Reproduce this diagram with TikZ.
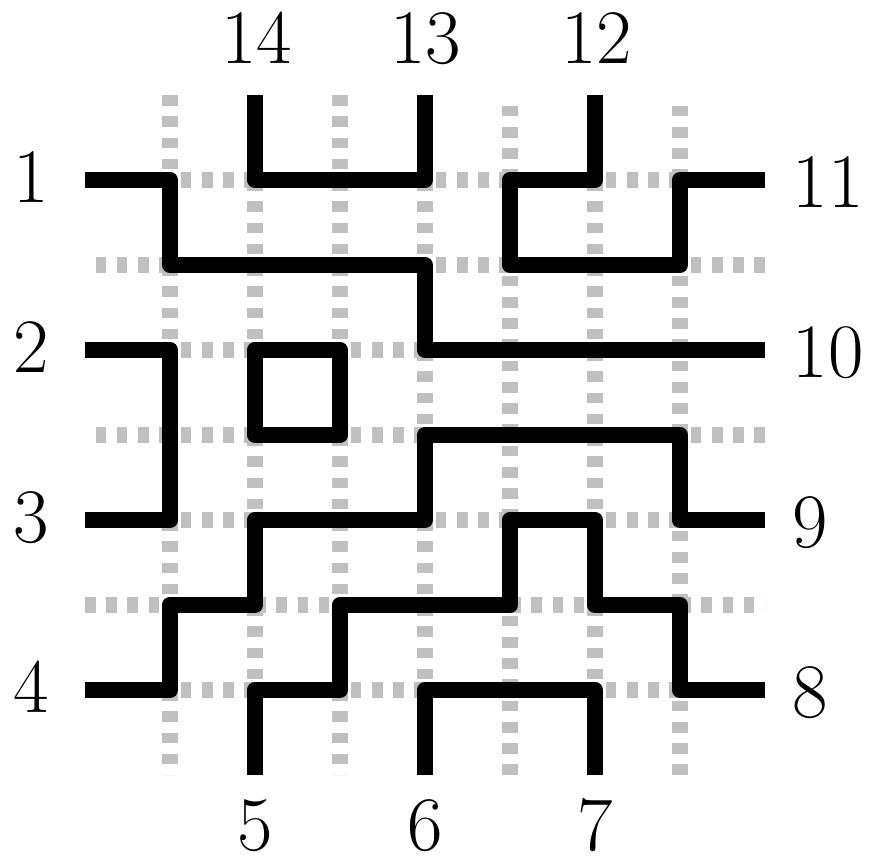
\documentclass[tikz,border=0pt]{standalone}
\definecolor{gridgray}{RGB}{192,192,192}
\tikzset{
  gridA/.style={draw=gridgray, line width=0.18cm, line cap=butt, dash pattern=on 0.125cm off 0.125cm},
  gridB/.style={gridA, dash phase=0.125cm},
  wire/.style={draw=black, line width=0.19cm, line join=round, line cap=butt},
  lbl/.style={inner sep=0pt, font=\fontsize{25.8}{30}\selectfont},
}
\begin{document}
\begin{tikzpicture}
\useasboundingbox (-1,1.1176) rectangle (9.2235,-8.9647);
% terminals
\coordinate (t1) at (0,-1);
\coordinate (t2) at (0,-3);
\coordinate (t3) at (0,-5);
\coordinate (t4) at (0,-7);
\coordinate (t5) at (2,-8);
\coordinate (t6) at (4,-8);
\coordinate (t7) at (6,-8);
\coordinate (t8) at (8,-7);
\coordinate (t9) at (8,-5);
\coordinate (t10) at (8,-3);
\coordinate (t11) at (8,-1);
\coordinate (t12) at (6,0);
\coordinate (t13) at (4,0);
\coordinate (t14) at (2,0);
% vertical grid lines
\draw[gridA] (1,0) -- (1,-8);
\draw[gridA] (2,0) -- (2,-8);
\draw[gridA] (3,0) -- (3,-8);
\draw[gridA] (4,0) -- (4,-8);
\draw[gridB] (5,0) -- (5,-8);
\draw[gridA] (6,0) -- (6,-8);
\draw[gridB] (7,0) -- (7,-8);
% horizontal grid lines
\draw[gridB] (0,-1) -- (8,-1);
\draw[gridB] (0,-2) -- (8,-2);
\draw[gridB] (0,-3) -- (8,-3);
\draw[gridB] (0,-4) -- (8,-4);
\draw[gridB] (0,-5) -- (8,-5);
\draw[gridA] (0,-6) -- (8,-6);
\draw[gridB] (0,-7) -- (8,-7);
% wires
\draw[wire] (t1) -- (1,-1) -- (1,-2) -- (4,-2) -- (4,-3) -- (t10);
\draw[wire] (t14) -- (2,-1) -- (4,-1) -- (t13);
\draw[wire] (t12) -- (6,-1) -- (5,-1) -- (5,-2) -- (7,-2) -- (7,-1) -- (t11);
\draw[wire] (t2) -- (1,-3) -- (1,-5) -- (t3);
\draw[wire] (2,-3) -- (3,-3) -- (3,-4) -- (2,-4) -- cycle;
\draw[wire] (t9) -- (7,-5) -- (7,-4) -- (4,-4) -- (4,-5) -- (2,-5) -- (2,-6) -- (1,-6) -- (1,-7) -- (t4);
\draw[wire] (t8) -- (7,-7) -- (7,-6) -- (6,-6) -- (6,-5) -- (5,-5) -- (5,-6) -- (3,-6) -- (3,-7) -- (2,-7) -- (t5);
\draw[wire] (t6) -- (4,-7) -- (6,-7) -- (t7);
% labels
\node[lbl, anchor=base] (n1) at (-0.635,-1.265) {1};
\node[lbl, anchor=base] (n2) at (-0.635,-3.265) {2};
\node[lbl, anchor=base] (n3) at (-0.635,-5.265) {3};
\node[lbl, anchor=base] (n4) at (-0.635,-7.265) {4};
\node[lbl, anchor=base] (n5) at (2,-8.885) {5};
\node[lbl, anchor=base] (n6) at (4,-8.885) {6};
\node[lbl, anchor=base] (n7) at (6,-8.885) {7};
\node[lbl, anchor=base west] (n8) at (8.318,-7.32) {8};
\node[lbl, anchor=base west] (n9) at (8.318,-5.32) {9};
\node[lbl, anchor=base west] (n10) at (8.318,-3.32) {10};
\node[lbl, anchor=base west] (n11) at (8.318,-1.32) {11};
\node[lbl, anchor=base] (n12) at (6.02,0.376) {12};
\node[lbl, anchor=base] (n13) at (4.01,0.376) {13};
\node[lbl, anchor=base] (n14) at (2.02,0.376) {14};
\end{tikzpicture}
\end{document}
